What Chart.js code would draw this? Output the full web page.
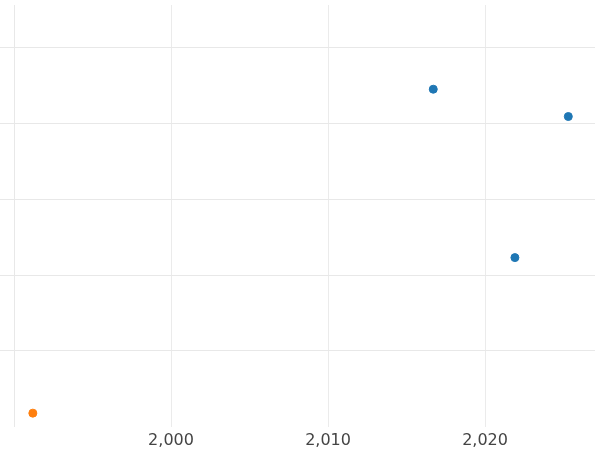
<!DOCTYPE html>
<html><head><style>html,body{margin:0;padding:0;background:#fff}#w{width:600px;height:450px}</style>
<script src="https://cdn.jsdelivr.net/npm/chart.js@4"></script></head>
<body><div id="w"><canvas id="c"></canvas></div>
<script>
const blueX=[2016.7,2025.3,2021.9];
const blueY=[4.45,4.09,2.23];
const orangeX=[1991.2];
const orangeY=[0.18];
const xTicks=[2000,2010,2020];
const yTicks=[1,2,3,4,5];
const pts=(xs,ys)=>xs.map((x,i)=>({x:x,y:ys[i]}));
new Chart(document.getElementById('c'),{type:'scatter',
data:{datasets:[
{data:pts(blueX,blueY),backgroundColor:'#1f77b4',borderColor:'#1f77b4',pointRadius:4},
{data:pts(orangeX,orangeY),backgroundColor:'#ff7f0e',borderColor:'#ff7f0e',pointRadius:4}]},
options:{responsive:true,maintainAspectRatio:false,animation:false,
layout:{padding:{left:0,right:0,top:0,bottom:-4}},
plugins:{legend:{display:false},tooltip:{enabled:false}},
scales:{
x:{type:'linear',min:1990,max:2027,border:{display:false},
afterBuildTicks:a=>{a.ticks=xTicks.map(v=>({value:v}));},
grid:{color:'#ebebeb',drawTicks:false},
ticks:{padding:4,color:'#444',font:{family:'DejaVu Sans',size:16}}},
y:{min:0,max:5.56,border:{color:'#e8e8e8'},
afterBuildTicks:a=>{a.ticks=yTicks.map(v=>({value:v}));},
grid:{color:'#e8e8e8',tickLength:14},
ticks:{display:false}}}}});
</script></body></html>
